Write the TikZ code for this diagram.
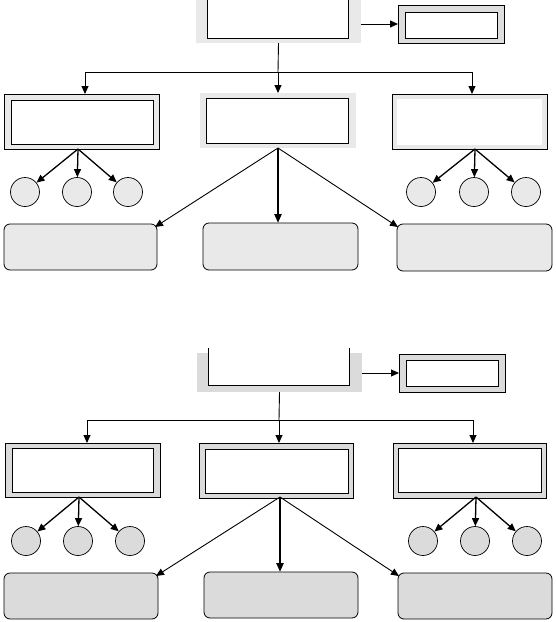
\documentclass[tikz,border=0pt]{standalone}
\usetikzlibrary{arrows.meta}
\definecolor{ga}{RGB}{233,233,233}
\definecolor{gb}{RGB}{219,219,219}
\begin{document}
\begin{tikzpicture}[x=1pt,y=-1pt,
  box/.style={anchor=north west, inner sep=0pt, outer sep=0pt, line width=0.8pt},
  arr/.style={-{Triangle[length=8pt,width=7pt]}, line width=0.9pt},
  carr/.style={-{Triangle[length=8pt,width=7pt]}, line width=1.3pt},
  tarr/.style={-{Triangle[length=9pt,width=7pt]}, line width=2.2pt},
  ln/.style={line width=0.9pt},
  circ/.style={circle, draw, line width=0.7pt, minimum size=29pt, inner sep=0pt},
  rbox/.style={box, draw, rounded corners=6pt}]
\useasboundingbox (0,0) rectangle (555,622);

% ================= TOP HALF =================
\node[box, fill=ga, minimum width=165pt, minimum height=43pt] (T1) at (196,0) {};
\fill[white] (207,0) rectangle (348,38);
\draw[ln] (207,0) -- (207,38) -- (348,38) -- (348,0);
\node[box, draw, fill=gb!80!ga, minimum width=106pt, minimum height=38pt] (S1) at (398,5) {};
\node[box, draw, fill=white, minimum width=92pt, minimum height=26pt] (S1i) at (405,12) {};
\draw[arr] (T1.east |- S1.west) -- (S1.west);

\node[box, draw, fill=ga, minimum width=155pt, minimum height=55pt] (L1) at (4,94) {};
\node[box, draw, fill=white, minimum width=142pt, minimum height=44pt] (L1i) at (11,100) {};
\node[box, fill=ga, minimum width=156pt, minimum height=55pt] (M1) at (200,93) {};
\node[box, draw, fill=white, minimum width=142pt, minimum height=45pt] (M1i) at (206,98) {};
\node[box, draw, fill=ga, minimum width=155pt, minimum height=55pt] (R1) at (392,94) {};
\node[box, fill=white, minimum width=145pt, minimum height=46pt] (R1i) at (397,99) {};

\coordinate (J1) at (278,72);
\draw[ln] (T1.south) -- (J1);
\draw[ln] (85,72) coordinate (J1l) -- (472,72) coordinate (J1r);
\draw[arr] (J1l) -- (J1l |- L1.north);
\draw[arr] (J1) -- (M1.north);
\draw[arr] (J1r) -- (J1r |- R1.north);

\node[circ, fill=ga] (a1) at (25,192) {};
\node[circ, fill=ga] (a2) at (77,192) {};
\node[circ, fill=ga] (a3) at (128,192) {};
\node[circ, fill=ga] (a4) at (421,192) {};
\node[circ, fill=ga] (a5) at (474,192) {};
\node[circ, fill=ga] (a6) at (526,192) {};
\coordinate (oL1) at (78,149);
\coordinate (oR1) at (475,149);
\draw[carr] (oL1) -- (a1);
\draw[carr] (oL1) -- (a2);
\draw[carr] (oL1) -- (a3);
\draw[carr] (oR1) -- (a4);
\draw[carr] (oR1) -- (a5);
\draw[carr] (oR1) -- (a6);

\node[rbox, fill=ga, minimum width=153pt, minimum height=46pt] (B1) at (4,224) {};
\node[rbox, fill=ga, minimum width=155pt, minimum height=47pt] (B2) at (203,223) {};
\node[rbox, fill=ga, minimum width=155pt, minimum height=47pt] (B3) at (397,224) {};
\coordinate (oM1) at (278,148);
\draw[arr] (oM1) -- ([xshift=-2pt,yshift=-3pt]B1.north east);
\draw[tarr] (oM1) -- (B2.north -| oM1);
\draw[arr] (oM1) -- ([xshift=1pt,yshift=-3pt]B3.north west);

% ================= BOTTOM HALF =================
\node[box, fill=gb, minimum width=165pt, minimum height=39pt] (T2) at (197,353) {};
\fill[white] (208,353) rectangle (349,385);
\draw[ln] (208,348) -- (208,385) -- (349,385) -- (349,348);
\node[box, draw, fill=gb, minimum width=106pt, minimum height=38pt] (S2) at (399,354) {};
\node[box, draw, fill=white, minimum width=92pt, minimum height=26pt] (S2i) at (406,360) {};
\draw[arr] (T2.east |- S2.west) -- (S2.west);

\node[box, draw, fill=gb, minimum width=155pt, minimum height=54pt] (L2) at (5,443) {};
\node[box, draw, fill=white, minimum width=141pt, minimum height=44pt] (L2i) at (12,448) {};
\node[box, draw, fill=gb, minimum width=154pt, minimum height=55pt] (M2) at (199,443) {};
\node[box, draw, fill=white, minimum width=143pt, minimum height=44pt] (M2i) at (205,449) {};
\node[box, draw, fill=gb, minimum width=153pt, minimum height=55pt] (R2) at (393,443) {};
\node[box, draw, fill=white, minimum width=143pt, minimum height=44pt] (R2i) at (398,448) {};

\coordinate (J2) at (279,420);
\draw[ln] (T2.south) -- (J2);
\draw[ln] (87,420) coordinate (J2l) -- (473,420) coordinate (J2r);
\draw[arr] (J2l) -- (J2l |- L2.north);
\draw[arr] (J2) -- (M2.north -| J2);
\draw[arr] (J2r) -- (J2r |- R2.north);

\node[circ, fill=gb] (b1) at (26,541) {};
\node[circ, fill=gb] (b2) at (78,541) {};
\node[circ, fill=gb] (b3) at (130,541) {};
\node[circ, fill=gb] (b4) at (423,541) {};
\node[circ, fill=gb] (b5) at (475,541) {};
\node[circ, fill=gb] (b6) at (527,541) {};
\coordinate (oL2) at (79,497);
\coordinate (oR2) at (476,497);
\draw[carr] (oL2) -- (b1);
\draw[carr] (oL2) -- (b2);
\draw[carr] (oL2) -- (b3);
\draw[carr] (oR2) -- (b4);
\draw[carr] (oR2) -- (b5);
\draw[carr] (oR2) -- (b6);

\node[rbox, fill=gb, minimum width=154pt, minimum height=46pt] (D1) at (4,573) {};
\node[rbox, fill=gb, minimum width=154pt, minimum height=46pt] (D2) at (204,572) {};
\node[rbox, fill=gb, minimum width=154pt, minimum height=46pt] (D3) at (398,573) {};
\coordinate (oM2) at (280,497);
\draw[arr] (oM2) -- ([xshift=-2pt,yshift=-3pt]D1.north east);
\draw[tarr] (oM2) -- (D2.north -| oM2);
\draw[arr] (oM2) -- ([xshift=1pt,yshift=-3pt]D3.north west);
\end{tikzpicture}
\end{document}
